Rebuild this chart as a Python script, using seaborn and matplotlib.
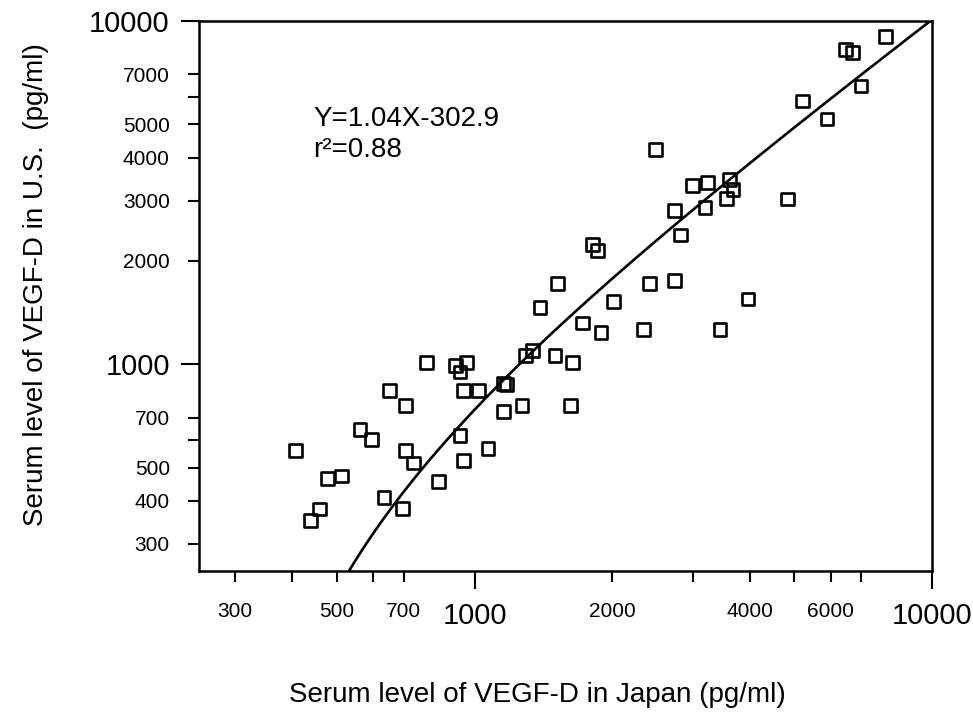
import numpy as np
import pandas as pd
import seaborn as sns
import matplotlib
matplotlib.use("Agg")
import matplotlib.pyplot as plt
from matplotlib.ticker import FixedLocator, FixedFormatter

# serum VEGF-D, Japan (x) vs U.S. (y), pg/ml
japan = [7900, 6460, 6690, 6990, 5210, 5890, 2490, 3000, 3230, 3610,
         3670, 3550, 2730, 3190, 4830, 2820, 1810, 1860, 2410, 2730,
         2010, 3960, 2340, 3440, 1890, 1520, 1390, 1720, 1340, 1290,
         1500, 1640, 785, 910, 960, 930, 653, 707, 945, 1020,
         1155, 1175, 1155, 1270, 1620, 930, 407, 562, 596, 707,
         737, 477, 512, 634, 695, 459, 438, 836, 948, 1070]
us = [9000, 8240, 8110, 6470, 5850, 5180, 4220, 3310, 3380, 3450,
      3230, 3040, 2800, 2870, 3030, 2380, 2230, 2150, 1720, 1750,
      1520, 1550, 1260, 1260, 1240, 1720, 1460, 1320, 1100, 1060,
      1060, 1010, 1010, 990, 1010, 950, 840, 760, 840, 840,
      880, 875, 730, 760, 760, 620, 560, 645, 605, 560,
      516, 465, 473, 410, 380, 379, 350, 455, 524, 569]

slope = 1.04
intercept = -302.9
r2 = 0.88

major_ticks = [1000, 10000]
x_minor = [300, 400, 500, 600, 700, 2000, 3000, 4000, 5000, 6000, 7000]
x_minor_labels = ["300", "", "500", "", "700", "2000", "", "4000", "", "6000", ""]
y_minor = [300, 400, 500, 600, 700, 2000, 3000, 4000, 5000, 6000, 7000]
y_minor_labels = ["300", "400", "500", "", "700", "2000", "3000", "4000", "5000", "", "7000"]

df = pd.DataFrame({"japan": japan, "us": us})
fit_x = np.geomspace(500, 10000, 200)
fit = pd.DataFrame({"japan": fit_x, "us": slope * fit_x + intercept})

sns.set_style("ticks")
plt.rcParams["font.family"] = ["Liberation Sans", "DejaVu Sans"]
plt.rcParams["text.color"] = "black"
plt.rcParams["xtick.color"] = "black"
plt.rcParams["ytick.color"] = "black"
plt.rcParams["axes.labelcolor"] = "black"

fig = plt.figure(figsize=(9.73, 7.17), dpi=100)
ax = fig.add_axes([0.2045, 0.2036, 0.7535, 0.7671])

sns.lineplot(data=fit, x="japan", y="us", color="black", linewidth=1.9, ax=ax)
sns.scatterplot(data=df, x="japan", y="us", marker="s", s=85,
                facecolor="none", edgecolor="black", linewidth=1.9, ax=ax)

ax.set_xscale("log")
ax.set_yscale("log")
ax.set_xlim(250, 10000)
ax.set_ylim(250, 10000)

for axis, minor, labels in [(ax.xaxis, x_minor, x_minor_labels),
                            (ax.yaxis, y_minor, y_minor_labels)]:
    axis.set_major_locator(FixedLocator(major_ticks))
    axis.set_major_formatter(FixedFormatter([str(t) for t in major_ticks]))
    axis.set_minor_locator(FixedLocator(minor))
    axis.set_minor_formatter(FixedFormatter(labels))

ax.tick_params(which="major", length=13, width=1.5, labelsize=21,
               color="black", labelcolor="black")
ax.tick_params(which="minor", length=8, width=1.5, labelsize=15,
               color="black", labelcolor="black")
ax.tick_params(axis="x", which="major", pad=9)
ax.tick_params(axis="x", which="minor", pad=14)
ax.tick_params(axis="y", which="major", pad=8)
ax.tick_params(axis="y", which="minor", pad=13)

for sp in ax.spines.values():
    sp.set_visible(True)
    sp.set_linewidth(1.8)
    sp.set_color("black")

ax.set_xlabel("")
ax.set_ylabel("")
fig.text(0.552, 0.031, "Serum level of VEGF-D in Japan (pg/ml)", fontsize=20,
         ha="center", va="center")
fig.text(0.037, 0.6025, "Serum level of VEGF-D in U.S.  (pg/ml)", fontsize=20,
         ha="center", va="center", rotation=90)

fig.text(0.3217, 0.8243, f"Y={slope}X{intercept}", fontsize=20, va="baseline")
fig.text(0.3217, 0.781, f"r\u00b2={r2}", fontsize=20, va="baseline")

fig.savefig("out.png", dpi=100)
